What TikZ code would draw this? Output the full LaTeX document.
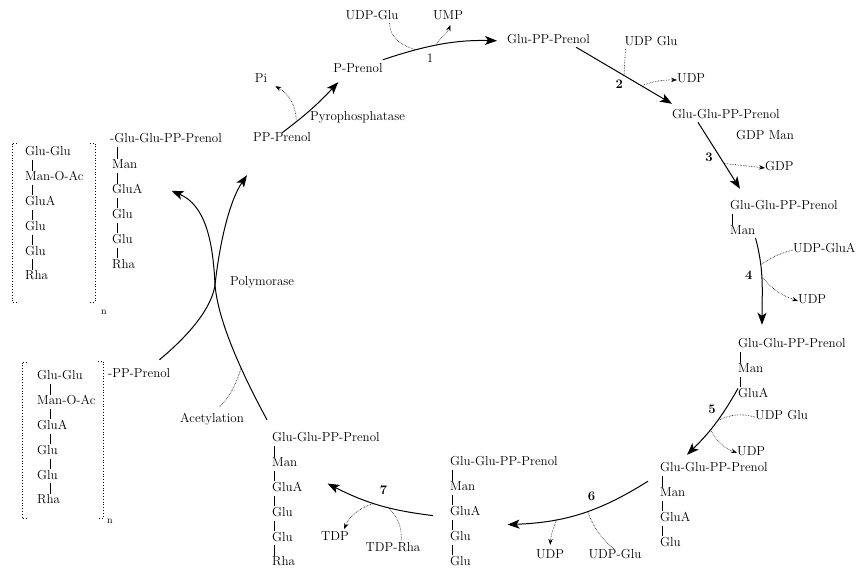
\documentclass[tikz,border=0pt]{standalone}
\usepackage{tikz}
\usetikzlibrary{positioning,arrows.meta}
\newcommand{\chemsize}{\fontsize{13}{15}\selectfont}

\begin{document}
\begin{tikzpicture}
  [x=1pt, y=1pt,
   every node/.style={inner sep=0pt, text height=9pt, text depth=3pt, font=\chemsize},
   sug/.style={anchor=west},
   under/.style={below=of #1.south west, anchor=north west},
   num/.style={font=\chemsize\bfseries},
   main/.style={-{Stealth[length=12pt,width=9pt,inset=3pt]}, line width=1pt},
   side/.style={densely dotted, line width=0.6pt},
   sidearr/.style={side, -{Stealth[length=6pt,width=4.5pt]}},
   link/.style={line width=0.6pt, shorten <=1pt, shorten >=1pt},
   brk/.style={dotted, line width=0.8pt},
   node distance=12.4pt]

  \useasboundingbox (0,0) rectangle (859,569);

  % top of the cycle
  \node (udpglu1) at (372,552) {UDP-Glu};
  \node (ump) at (448,552) {UMP};
  \node (pi) at (261,489) {Pi};
  \node (pprenol) at (358,499) {P-Prenol};
  \node[sug] (ppprenol) at (253,430) {PP-Prenol};
  \node[sug] (pyro) at (310,451) {Pyrophosphatase};
  \node[sug] (gpp) at (507,528) {Glu-PP-Prenol};
  \node (udpglu2) at (651,526) {UDP Glu};
  \node[sug] (udp2) at (677,489) {UDP};
  \node[sug] (ggpp) at (672,453) {Glu-Glu-PP-Prenol};
  \node (gdpman) at (765,432) {GDP Man};
  \node[sug] (gdp) at (765,401) {GDP};

  % right side
  \node[sug] (c3a) at (730,362) {Glu-Glu-PP-Prenol};
  \node[under=c3a] (c3b) {Man};
  \node[sug] (udpglua) at (793,319) {UDP-GluA};
  \node[sug] (udp4) at (798,268) {UDP};

  \node[sug] (c4a) at (738,224) {Glu-Glu-PP-Prenol};
  \node[under=c4a] (c4b) {Man};
  \node[under=c4b] (c4c) {GluA};
  \node[sug] (udpglu5) at (755,152) {UDP Glu};
  \node[sug] (udp5) at (737,116) {UDP};

  \node[sug] (c5a) at (660,100) {Glu-Glu-PP-Prenol};
  \node[under=c5a] (c5b) {Man};
  \node[under=c5b] (c5c) {GluA};
  \node[under=c5c] (c5d) {Glu};
  \node (udpglu6) at (615,13) {UDP-Glu};
  \node (udp6) at (550,13) {UDP};

  % bottom
  \node[sug] (c6a) at (450,106) {Glu-Glu-PP-Prenol};
  \node[under=c6a] (c6b) {Man};
  \node[under=c6b] (c6c) {GluA};
  \node[under=c6c] (c6d) {Glu};
  \node[under=c6d] (c6e) {Glu};
  \node (tdp) at (335,31) {TDP};
  \node (tdprha) at (393,20) {TDP-Rha};

  \node[sug] (c7a) at (272,130) {Glu-Glu-PP-Prenol};
  \node[under=c7a] (c7b) {Man};
  \node[under=c7b] (c7c) {GluA};
  \node[under=c7c] (c7d) {Glu};
  \node[under=c7d] (c7e) {Glu};
  \node[under=c7e] (c7f) {Rha};
  \node[sug] (acet) at (180,149) {Acetylation};
  \node[sug] (poly) at (230,286) {Polymorase};

  % polymer, upper left
  \node[sug] (ua) at (110,429) {-Glu-Glu-PP-Prenol};
  \node[sug] (ub) at (112,403) {Man};
  \node[under=ub] (uc) {GluA};
  \node[under=uc] (ud) {Glu};
  \node[under=ud] (ue) {Glu};
  \node[under=ue] (uf) {Rha};
  \node[sug] (ba) at (25,416) {Glu-Glu};
  \node[under=ba] (bb) {Man-O-Ac};
  \node[under=bb] (bc) {GluA};
  \node[under=bc] (bd) {Glu};
  \node[under=bd] (be) {Glu};
  \node[under=be] (bf) {Rha};
  \node[font=\fontsize{10}{12}\selectfont] (un) at (104,257) {n};

  % polymer, lower left
  \node[sug] (lpp) at (108,194) {-PP-Prenol};
  \node[sug] (la) at (37,192) {Glu-Glu};
  \node[under=la] (lb) {Man-O-Ac};
  \node[under=lb] (lc) {GluA};
  \node[under=lc] (ld) {Glu};
  \node[under=ld] (le) {Glu};
  \node[under=le] (lf) {Rha};
  \node[font=\fontsize{10}{12}\selectfont] (ln) at (110,48) {n};

  % links in the chains
  \path[link]
    ([xshift=2pt]c3a.south west) edge ([xshift=2pt]c3b.north west)
    ([xshift=2pt]c4a.south west) edge ([xshift=2pt]c4b.north west)
    ([xshift=2pt]c4b.south west) edge ([xshift=2pt]c4c.north west)
    ([xshift=2pt]c5a.south west) edge ([xshift=2pt]c5b.north west)
    ([xshift=2pt]c5b.south west) edge ([xshift=2pt]c5c.north west)
    ([xshift=2pt]c5c.south west) edge ([xshift=2pt]c5d.north west)
    ([xshift=2pt]c6a.south west) edge ([xshift=2pt]c6b.north west)
    ([xshift=2pt]c6b.south west) edge ([xshift=2pt]c6c.north west)
    ([xshift=2pt]c6c.south west) edge ([xshift=2pt]c6d.north west)
    ([xshift=2pt]c6d.south west) edge ([xshift=2pt]c6e.north west)
    ([xshift=2pt]c7a.south west) edge ([xshift=2pt]c7b.north west)
    ([xshift=2pt]c7b.south west) edge ([xshift=2pt]c7c.north west)
    ([xshift=2pt]c7c.south west) edge ([xshift=2pt]c7d.north west)
    ([xshift=2pt]c7d.south west) edge ([xshift=2pt]c7e.north west)
    ([xshift=2pt]c7e.south west) edge ([xshift=2pt]c7f.north west);
  \path[link]
    ([xshift=7pt]ua.south west) edge ([xshift=5pt]ub.north west)
    ([xshift=5pt]ub.south west) edge ([xshift=5pt]uc.north west)
    ([xshift=5pt]uc.south west) edge ([xshift=5pt]ud.north west)
    ([xshift=5pt]ud.south west) edge ([xshift=5pt]ue.north west)
    ([xshift=5pt]ue.south west) edge ([xshift=5pt]uf.north west)
    ([xshift=7pt]ba.south west) edge ([xshift=7pt]bb.north west)
    ([xshift=7pt]bb.south west) edge ([xshift=7pt]bc.north west)
    ([xshift=7pt]bc.south west) edge ([xshift=7pt]bd.north west)
    ([xshift=7pt]bd.south west) edge ([xshift=7pt]be.north west)
    ([xshift=7pt]be.south west) edge ([xshift=7pt]bf.north west)
    ([xshift=13pt]la.south west) edge ([xshift=13pt]lb.north west)
    ([xshift=13pt]lb.south west) edge ([xshift=13pt]lc.north west)
    ([xshift=13pt]lc.south west) edge ([xshift=13pt]ld.north west)
    ([xshift=13pt]ld.south west) edge ([xshift=13pt]le.north west)
    ([xshift=13pt]le.south west) edge ([xshift=13pt]lf.north west);

  % brackets
  \draw[brk] (17,426) -| (12,267) -- (17,267);
  \draw[brk] (90,426) -| (95,267) -- (90,267);
  \draw[brk] (27,207) -| (22,51) -- (27,51);
  \draw[brk] (98,208) -| (103,51) -- (98,51);

  % step 1
  \draw[main, shorten >=10pt] ([yshift=4pt]pprenol.north east) to[bend left=10]
      coordinate[pos=.26] (in1) coordinate[pos=.43] (out1)
      node[pos=.38, below=6pt] (l1) {1} (gpp.west);
  \draw[side] ([xshift=-9pt]udpglu1.south east) to[out=-90, in=165] (in1);
  \draw[sidearr, shorten >=2pt] (out1) to[out=60, in=-110] ([xshift=3pt]ump.south);

  % step 2
  \draw[main] ([xshift=-14pt]gpp.south east) --
      coordinate[pos=.5] (in2) coordinate[pos=.68] (out2)
      node[num, pos=.45, below=6pt] (l2) {2} ([yshift=6pt]ggpp.north west);
  \draw[side] ([xshift=1pt]udpglu2.south west) -- (in2);
  \draw[sidearr] (out2) to[bend left=10] (udp2.west);

  % step 3
  \draw[main] ([xshift=-28pt]ggpp.south) --
      coordinate[pos=.62] (out3)
      node[num, pos=.55, left=8pt] (l3) {3} ([shift={(10pt,12pt)}]c3a.north west);
  \draw[sidearr] (out3) -- (gdp.west);

  % step 4
  \draw[main] (c3b.south east) to[out=-75, in=90]
      coordinate[pos=.3] (in4) coordinate[pos=.45] (out4)
      node[num, pos=.45, left=9pt] (l4) {4} ([shift={(24pt,14pt)}]c4a.north west);
  \draw[side] (udpglua.west) to[bend right=10] (in4);
  \draw[sidearr] (out4) to[bend right=15] (udp4.west);

  % step 5
  \draw[main] (c4c.north west) to[bend left=8]
      coordinate[pos=.45] (in5) coordinate[pos=.6] (out5)
      node[num, pos=.3, left=8pt] (l5) {5} ([shift={(27pt,8pt)}]c5a.north west);
  \draw[side] (udpglu5.west) to[bend right=20] (in5);
  \draw[sidearr] (out5) to[bend right=20] (udp5.west);

  % step 6
  \draw[main] ([shift={(-12pt,-6pt)}]c5a.south west) to[bend left=15]
      coordinate[pos=.45] (in6) coordinate[pos=.68] (out6)
      node[num, pos=.42, above=6pt] (l6) {6} ([shift={(27pt,-12pt)}]c6c.east);
  \draw[side] (udpglu6.north) to[bend left=15] (in6);
  \draw[sidearr, shorten >=5pt] (out6) to[bend right=10] (udp6.north);

  % step 7
  \draw[main] ([shift={(-17pt,-3pt)}]c6c.west) to[bend left=10]
      coordinate[pos=.4] (in7) coordinate[pos=.55] (out7)
      node[num, pos=.45, above=8pt] (l7) {7} ([shift={(25pt,5pt)}]c7c.east);
  \draw[side] ([xshift=8pt]tdprha.north) to[bend right=25] (in7);
  \draw[sidearr, shorten >=3pt] (out7) to[bend right=25] ([xshift=8pt]tdp.north);

  % polymerase
  \draw[main] ([shift={(-11pt,9pt)}]lpp.north east)
      .. controls (195,239) and (212,264) .. (215,284)
      .. controls (220,329) and (230,369) .. ([shift={(-6pt,-30pt)}]ppprenol.south west);
  \draw[main] ([shift={(-5pt,13pt)}]c7a.north west)
      .. controls (240,199) and (218,249) .. coordinate[pos=.35] (acin) (215,284)
      .. controls (213,329) and (205,364) .. ([xshift=29pt]uc.east);
  \draw[side, shorten >=10pt] (acin) to[bend left=15] (acet.north);

  % pyrophosphatase
  \draw[main] (ppprenol.north) to[bend right=5]
      coordinate[pos=.22] (pym) ([shift={(5pt,-6pt)}]pprenol.south west);
  \draw[sidearr] (pym) to[bend right=30] ([xshift=8pt]pi.south east);
\end{tikzpicture}
\end{document}
